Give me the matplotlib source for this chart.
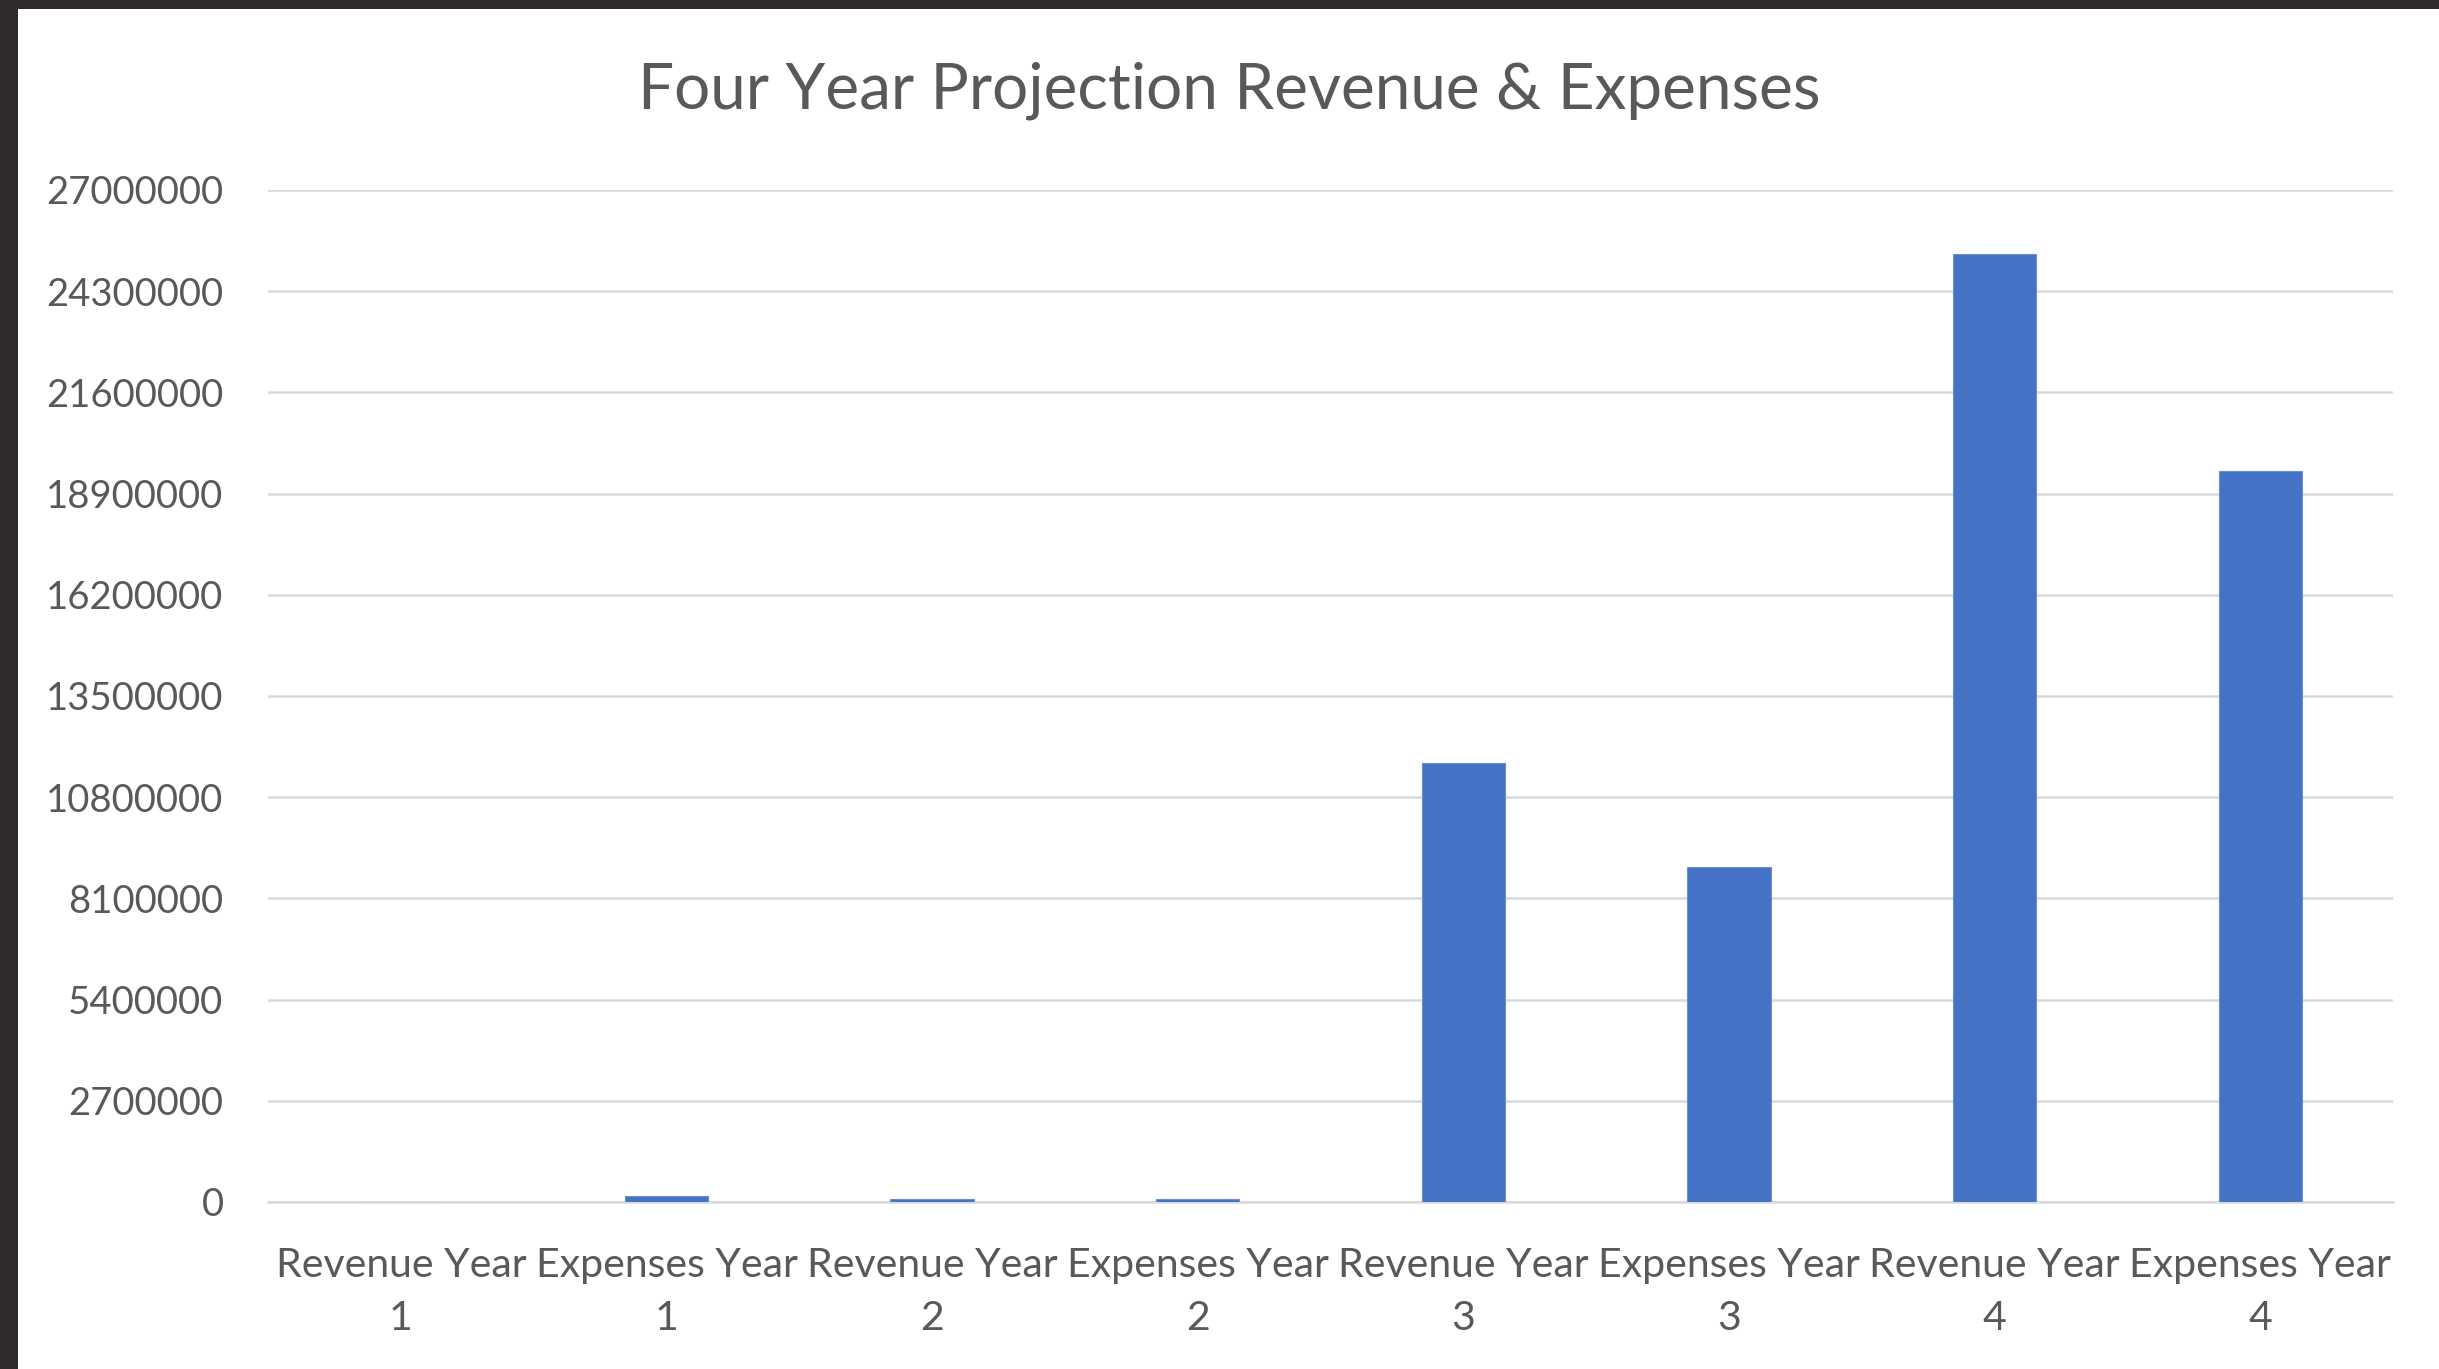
import matplotlib
matplotlib.use("Agg")
import matplotlib.pyplot as plt
from matplotlib.patches import Rectangle

categories = ["Revenue Year\n1", "Expenses Year\n1", "Revenue Year\n2", "Expenses Year\n2",
              "Revenue Year\n3", "Expenses Year\n3", "Revenue Year\n4", "Expenses Year\n4"]
values = [5000, 150000, 80000, 80000, 11710000, 8950000, 25290000, 19490000]
yticks = [0, 2700000, 5400000, 8100000, 10800000, 13500000, 16200000, 18900000,
          21600000, 24300000, 27000000]
title = "Four Year Projection Revenue & Expenses"

W, H = 2439, 1369
plt.rcParams['font.family'] = ['Lato', 'DejaVu Sans']
text_color = "#595959"

fig = plt.figure(figsize=(W / 100, H / 100), dpi=100)
fig.patch.set_facecolor("white")
dark = "#302C2B"
fig.patches.append(Rectangle((0, 1 - 9 / H), 1, 9 / H, transform=fig.transFigure,
                             facecolor=dark, edgecolor="none", zorder=10))
fig.patches.append(Rectangle((0, 0), 18 / W, 1, transform=fig.transFigure,
                             facecolor=dark, edgecolor="none", zorder=10))

left, right = 268 / W, 2393 / W
bottom, top = (H - 1202) / H, (H - 190) / H
ax = fig.add_axes([left, bottom, right - left, top - bottom])
x = list(range(len(categories)))
ax.bar(x, values, width=0.313, color="#4472C4", edgecolor="#6a8fd2", linewidth=0.8, zorder=3)
ax.set_xlim(-0.5, len(categories) - 0.5)
ax.set_ylim(0, 27000000)
ax.set_yticks(yticks)
ax.set_yticklabels([str(v) for v in yticks])
ax.set_xticks(x)
ax.set_xticklabels(categories, linespacing=1.54)
ax.grid(axis="y", color="#D9D9D9", linewidth=1.8, zorder=0)
ax.set_axisbelow(True)
for s in ["top", "right", "left"]:
    ax.spines[s].set_visible(False)
ax.spines["bottom"].set_color("#D9D9D9")
ax.spines["bottom"].set_linewidth(1.8)
ax.tick_params(axis="y", length=0, pad=32, labelsize=27.5, labelcolor=text_color)
ax.tick_params(axis="x", length=0, pad=32.5, labelsize=29.5, labelcolor=text_color)

fig.text(1229 / W, (H - 109) / H, title, ha="center", va="baseline",
         fontsize=46, color=text_color)

fig.savefig("out.png", dpi=100)
